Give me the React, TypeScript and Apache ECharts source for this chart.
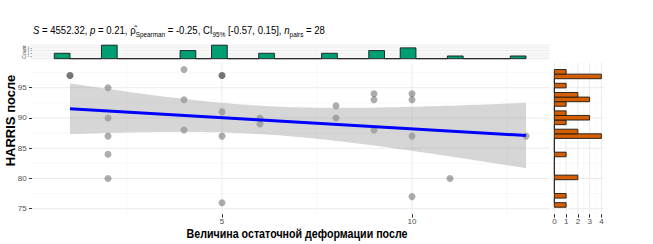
import React, { useEffect, useRef } from "react";
import * as echarts from "echarts";

// ---- data ----
const deformation = [1, 1, 2, 2, 2, 2, 2, 4, 4, 4, 5, 5, 5, 5, 5, 6, 6, 8, 8, 9, 9, 9, 10, 10, 10, 10, 11, 13];
const harris = [97, 97, 95, 90, 87, 84, 80, 98, 93, 88, 97, 97, 91, 87, 76, 90, 89, 92, 90, 94, 93, 88, 94, 93, 87, 77, 80, 87];

const xTickValues = [5, 10];
const xMinorValues = [2.5, 7.5, 12.5];
const yTickValues = [75, 80, 85, 90, 95];
const yMinorValues = [77.5, 82.5, 87.5, 92.5, 97.5];
const rightCountTicks = [0, 1, 2, 3, 4];
const rightCountMinor = [0.5, 1.5, 2.5, 3.5];
const topCountTicks = [0, 1, 2, 3, 4, 5];
const topCountMinor = [0.5, 1.5, 2.5, 3.5, 4.5];

const xTitle = "Величина остаточной деформации после";
const yTitle = "HARRIS после";
const statsRich =
  "{i|S} = 4552.32, {i|p} = 0.21, {r|ρ̂}{sub|Spearman} = -0.25, CI{sub|95%} [-0.57, 0.15], {i|n}{sub|pairs} = 28";

const N_BINS = 30;
const T_CRIT = 2.0555; // t quantile 0.975, df = n - 2 = 26

// ---- helpers ----
function histogram(values: number[]) {
  const lo = Math.min(...values);
  const hi = Math.max(...values);
  const w = (hi - lo) / (N_BINS - 1);
  const counts = new Array(N_BINS).fill(0);
  values.forEach((v) => {
    const k = Math.min(N_BINS - 1, Math.max(0, Math.ceil((v - lo) / w - 1e-9)));
    counts[k] += 1;
  });
  return {
    w,
    start: lo - w,
    end: hi,
    bins: counts.map((c, k) => [lo + (k - 1) * w, lo + k * w, c]),
  };
}

function padded(a: number, b: number) {
  const p = (b - a) * 0.05;
  return [a - p, b + p];
}

const xHist = histogram(deformation);
const yHist = histogram(harris);
const xRange = padded(xHist.start, xHist.end);
const yRange = padded(yHist.start, yHist.end);
const topMax = Math.max(...xHist.bins.map((b) => b[2]));
const rightMax = Math.max(...yHist.bins.map((b) => b[2]));
const topRange = padded(0, topMax);
const rightRange = padded(0, rightMax);

// linear fit
const n = deformation.length;
const mx = deformation.reduce((a, b) => a + b, 0) / n;
const my = harris.reduce((a, b) => a + b, 0) / n;
let sxx = 0, sxy = 0;
for (let i = 0; i < n; i++) {
  sxx += (deformation[i] - mx) ** 2;
  sxy += (deformation[i] - mx) * (harris[i] - my);
}
const slope = sxy / sxx;
const intercept = my - slope * mx;
let rss = 0;
for (let i = 0; i < n; i++) rss += (harris[i] - (intercept + slope * deformation[i])) ** 2;
const sigma = Math.sqrt(rss / (n - 2));
const fit = (x: number) => intercept + slope * x;
const halfBand = (x: number) => T_CRIT * sigma * Math.sqrt(1 / n + (x - mx) ** 2 / sxx);
const dataMinX = Math.min(...deformation);
const dataMaxX = Math.max(...deformation);

const FONT = "'Liberation Sans', Arial, sans-serif";
const TICK_COLOR = "#4d4d4d";
const MAJOR = "#ebebeb";
const MINOR = "#f4f4f4";

function gridSeries(
  gi: number,
  xr: number[],
  yr: number[],
  majX: number[],
  minX: number[],
  majY: number[],
  minY: number[]
) {
  return {
    type: "custom",
    xAxisIndex: gi,
    yAxisIndex: gi,
    silent: true,
    z: 0,
    clip: false,
    data: [[xr[0], yr[0]]],
    encode: { x: 0, y: 1 },
    renderItem: (_p: any, api: any) => {
      const children: any[] = [];
      const vline = (v: number, c: string, w: number) => {
        const a = api.coord([v, yr[0]]);
        const b = api.coord([v, yr[1]]);
        children.push({ type: "line", shape: { x1: a[0], y1: a[1], x2: b[0], y2: b[1] }, style: { stroke: c, lineWidth: w } });
      };
      const hline = (v: number, c: string, w: number) => {
        const a = api.coord([xr[0], v]);
        const b = api.coord([xr[1], v]);
        children.push({ type: "line", shape: { x1: a[0], y1: a[1], x2: b[0], y2: b[1] }, style: { stroke: c, lineWidth: w } });
      };
      minX.forEach((v) => vline(v, MINOR, 0.6));
      minY.forEach((v) => hline(v, MINOR, 0.6));
      majX.forEach((v) => vline(v, MAJOR, 1));
      majY.forEach((v) => hline(v, MAJOR, 1));
      return { type: "group", children };
    },
  };
}

const MAIN = { left: 30.7, top: 62.65, width: 518.9, height: 151.5 };
const TOP = { left: 30.7, top: 44.5, width: 518.9, height: 14.85 };
const RIGHT = { left: 552, top: 62.65, width: 51.7, height: 151.5 };

export default function App() {
  const ref = useRef<HTMLDivElement>(null);
  useEffect(() => {
    if (!ref.current) return;
    const chart = echarts.init(ref.current, undefined, { renderer: "svg" });
    const option: any = {
      animation: false,
      backgroundColor: "#ffffff",
      grid: [MAIN, TOP, RIGHT].map((g) => ({ ...g, containLabel: false })),
      xAxis: [
        {
          gridIndex: 0,
          type: "value",
          min: xRange[0],
          max: xRange[1],
          axisLine: { show: false },
          splitLine: { show: false },
          axisTick: { show: true, customValues: xTickValues, length: 3.5, lineStyle: { color: "#333333", width: 1 } },
          axisLabel: { customValues: xTickValues, fontSize: 8, color: TICK_COLOR, fontFamily: FONT, margin: 3 },
        },
        {
          gridIndex: 1,
          type: "value",
          min: xRange[0],
          max: xRange[1],
          axisLine: { show: false },
          splitLine: { show: false },
          axisTick: { show: false },
          axisLabel: { show: false },
        },
        {
          gridIndex: 2,
          type: "value",
          min: rightRange[0],
          max: rightRange[1],
          axisLine: { show: false },
          splitLine: { show: false },
          axisTick: { show: true, customValues: rightCountTicks, length: 3.5, lineStyle: { color: "#333333", width: 1 } },
          axisLabel: { customValues: rightCountTicks, fontSize: 8, color: TICK_COLOR, fontFamily: FONT, margin: 3 },
        },
      ],
      yAxis: [
        {
          gridIndex: 0,
          type: "value",
          min: yRange[0],
          max: yRange[1],
          axisLine: { show: false },
          splitLine: { show: false },
          axisTick: { show: true, customValues: yTickValues, length: 3, lineStyle: { color: "#333333", width: 1 } },
          axisLabel: { customValues: yTickValues, fontSize: 8, color: TICK_COLOR, fontFamily: FONT, margin: 4 },
        },
        {
          gridIndex: 1,
          type: "value",
          min: topRange[0],
          max: topRange[1],
          axisLine: { show: false },
          splitLine: { show: false },
          axisTick: { show: true, customValues: topCountTicks, length: 1.5, lineStyle: { color: "#555", width: 0.5 } },
          axisLabel: { customValues: topCountTicks, fontSize: 3, color: TICK_COLOR, fontFamily: FONT, margin: 1.5 },
        },
        {
          gridIndex: 2,
          type: "value",
          min: yRange[0],
          max: yRange[1],
          axisLine: { show: false },
          splitLine: { show: false },
          axisTick: { show: false },
          axisLabel: { show: false },
        },
      ],
      series: [
        gridSeries(0, xRange, yRange, xTickValues, xMinorValues, yTickValues, yMinorValues),
        gridSeries(1, xRange, topRange, xTickValues, xMinorValues, topCountTicks, topCountMinor),
        gridSeries(2, rightRange, yRange, rightCountTicks, rightCountMinor, yTickValues, yMinorValues),
        {
          type: "scatter",
          xAxisIndex: 0,
          yAxisIndex: 0,
          z: 2,
          symbolSize: 7,
          itemStyle: { color: "rgba(0,0,0,0.4)", borderWidth: 0 },
          data: deformation.map((x, i) => [x, harris[i]]),
        },
        {
          type: "custom",
          xAxisIndex: 0,
          yAxisIndex: 0,
          z: 3,
          silent: true,
          data: [[dataMinX, fit(dataMinX)]],
          encode: { x: 0, y: 1 },
          renderItem: (_p: any, api: any) => {
            const steps = 80;
            const up: number[][] = [];
            const lo: number[][] = [];
            for (let s = 0; s <= steps; s++) {
              const x = dataMinX + ((dataMaxX - dataMinX) * s) / steps;
              up.push(api.coord([x, fit(x) + halfBand(x)]));
              lo.push(api.coord([x, fit(x) - halfBand(x)]));
            }
            return {
              type: "polygon",
              shape: { points: up.concat(lo.reverse()) },
              style: { fill: "rgba(153,153,153,0.4)", stroke: "none" },
            };
          },
        },
        {
          type: "line",
          xAxisIndex: 0,
          yAxisIndex: 0,
          z: 4,
          symbol: "none",
          lineStyle: { color: "#0000ff", width: 3 },
          data: [
            [dataMinX, fit(dataMinX)],
            [dataMaxX, fit(dataMaxX)],
          ],
        },
        {
          type: "custom",
          xAxisIndex: 1,
          yAxisIndex: 1,
          z: 2,
          data: xHist.bins,
          encode: { x: [0, 1], y: 2 },
          renderItem: (_p: any, api: any) => {
            const a = api.coord([api.value(0), 0]);
            const b = api.coord([api.value(1), api.value(2)]);
            return {
              type: "rect",
              shape: { x: a[0], y: b[1], width: b[0] - a[0], height: a[1] - b[1] },
              style: { fill: "#009E73", stroke: "#1a1a1a", lineWidth: 0.9 },
            };
          },
        },
        {
          type: "custom",
          xAxisIndex: 2,
          yAxisIndex: 2,
          z: 2,
          data: yHist.bins,
          encode: { y: [0, 1], x: 2 },
          renderItem: (_p: any, api: any) => {
            const a = api.coord([0, api.value(0)]);
            const b = api.coord([api.value(2), api.value(1)]);
            return {
              type: "rect",
              shape: { x: a[0], y: b[1], width: b[0] - a[0], height: a[1] - b[1] },
              style: { fill: "#D55E00", stroke: "#1a1a1a", lineWidth: 0.9 },
            };
          },
        },
      ],
      graphic: [
        {
          type: "text",
          x: 33,
          y: 30.5,
          scaleX: 0.91,
          style: {
            text: statsRich,
            fontSize: 10.5,
            fontFamily: FONT,
            fill: "#000",
            textVerticalAlign: "middle",
            rich: {
              i: { fontSize: 10.5, fontStyle: "italic", fontFamily: FONT, lineHeight: 14 },
              r: { fontSize: 10.5, fontFamily: FONT, lineHeight: 14 },
              sub: { fontSize: 7, fontFamily: FONT, lineHeight: 6, verticalAlign: "bottom" },
            },
          },
        },
        {
          type: "text",
          x: 297,
          y: 233.5,
          scaleX: 0.855,
          style: {
            text: xTitle,
            fontSize: 12.5,
            fontWeight: "bold",
            fontFamily: FONT,
            fill: "#000",
            textAlign: "center",
            textVerticalAlign: "middle",
          },
        },
        {
          type: "text",
          x: 10.5,
          y: 120.5,
          rotation: Math.PI / 2,
          style: {
            text: yTitle,
            fontSize: 13,
            fontWeight: "bold",
            fontFamily: FONT,
            fill: "#000",
            textAlign: "center",
            textVerticalAlign: "middle",
          },
        },
        {
          type: "text",
          x: 24,
          y: 52,
          rotation: Math.PI / 2,
          style: {
            text: "Count",
            fontSize: 5,
            fontFamily: FONT,
            fill: "#333",
            textAlign: "center",
            textVerticalAlign: "middle",
          },
        },
      ],
    };
    chart.setOption(option);
    return () => chart.dispose();
  }, []);
  return <div ref={ref} style={{ position: "absolute", left: 0, top: 0, width: 653, height: 244 }} />;
}
